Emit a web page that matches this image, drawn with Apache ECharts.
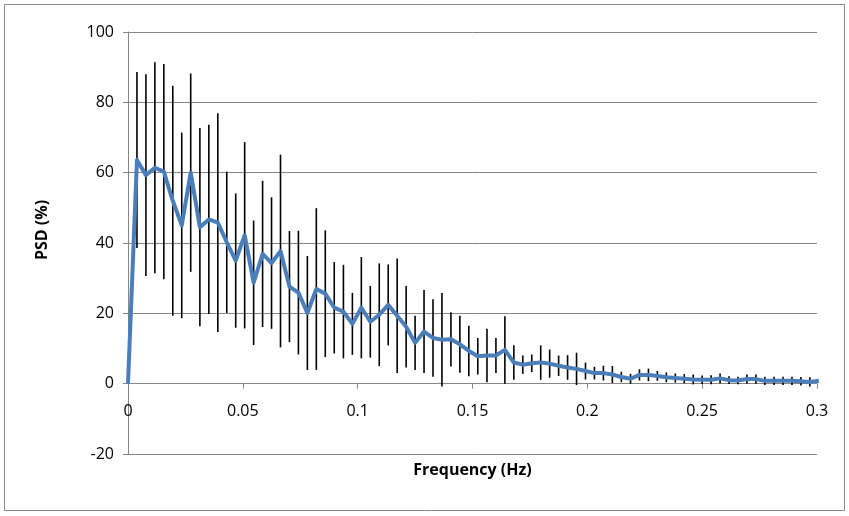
<!DOCTYPE html>
<html>
<head>
<meta charset="utf-8">
<script src="https://cdn.jsdelivr.net/npm/echarts@6/dist/echarts.min.js"></script>
<style>
html,body{margin:0;padding:0;background:#fff;}
#chart{width:849px;height:516px;}
</style>
</head>
<body>
<div id="chart"></div>
<script>
const freq = [0,0.0039,0.0078,0.0117,0.0156,0.0195,0.0234,0.0273,0.0313,0.0352,
0.0391,0.0430,0.0469,0.0508,0.0547,0.0586,0.0625,0.0664,0.0703,0.0742,
0.0781,0.0820,0.0859,0.0898,0.0938,0.0977,0.1016,0.1055,0.1094,0.1133,
0.1172,0.1211,0.1250,0.1289,0.1328,0.1367,0.1406,0.1445,0.1484,0.1523,
0.1563,0.1602,0.1641,0.1680,0.1719,0.1758,0.1797,0.1836,0.1875,0.1914,
0.1953,0.1992,0.2031,0.2070,0.2109,0.2148,0.2188,0.2227,0.2266,0.2305,
0.2344,0.2383,0.2422,0.2461,0.2500,0.2539,0.2578,0.2617,0.2656,0.2695,
0.2734,0.2773,0.2813,0.2852,0.2891,0.2930,0.2969,0.3008];
const psdMean = [0,63.6,59.3,61.4,60.3,52.0,45.0,60.0,44.5,46.7,
45.8,40.2,35.0,42.2,28.7,36.9,34.3,37.7,27.6,25.9,
20.1,26.9,25.6,21.6,20.5,17.0,21.6,17.6,19.6,22.4,
19.3,16.2,11.6,14.8,13.0,12.5,12.6,11.2,9.3,7.8,
8.0,8.0,9.6,6.0,5.4,5.8,6.0,5.7,5.1,4.6,
4.2,3.6,3.0,3.0,2.6,1.9,1.4,2.5,2.5,2.2,
1.8,1.6,1.4,1.2,1.1,1.1,1.5,1.0,0.9,1.3,
1.3,0.8,0.8,0.8,0.8,0.7,0.5,0.8];
const psdSD = [0,25,28.7,30,30.6,32.7,26.4,28.2,28.2,26.9,
31.1,20.1,19.1,26.5,17.7,20.8,18.7,27.4,15.8,17.6,
16.2,23,18,13,13.3,8.8,14.4,10.2,14.6,11.5,
16.3,11.6,7.7,11.8,11,13.3,7.7,8.1,7.2,5.2,
7.6,5,9.6,4.9,2.6,2.5,4.9,4,2.9,3.5,
4.6,2.4,1.8,2.1,2.4,1.5,1.4,1.6,1.8,1.4,
1.4,1.3,1.3,1.4,1.2,1.3,1.4,1.1,1.1,1.3,
1.3,1.2,1.2,1.2,1.2,1.2,1.3,1.3];
const yTicks = [-20,0,20,40,60,80,100];
const xTicks = [0,0.05,0.1,0.15,0.2,0.25,0.3];

const lineData = freq.map((f,i)=>[f, psdMean[i]]);
const errData = freq.map((f,i)=>[f, psdMean[i]-psdSD[i], psdMean[i]+psdSD[i]]).filter((d,i)=>psdSD[i]>0);

const font = '"Open Sans", "Noto Sans", sans-serif';
const gridTop = 32, gridBottom = 62, H = 516;
// pixel distance from y=-20 (bottom) to y=0, where the x axis crosses
const zeroOffset = (H - gridTop - gridBottom) * (0 - yTicks[0]) / (yTicks[yTicks.length-1] - yTicks[0]);

const chart = echarts.init(document.getElementById('chart'), null, {renderer:'canvas'});
chart.setOption({
  animation:false,
  backgroundColor:'#fff',
  graphic:[{type:'rect', shape:{x:4.5,y:4.5,width:840,height:506}, style:{fill:'none', stroke:'#8a8a8a', lineWidth:1}, silent:true, z:-10}],
  grid:{left:128, right:32, top:gridTop, bottom:gridBottom, containLabel:false, outerBoundsMode:'none'},
  xAxis:{
    type:'value', min:xTicks[0], max:xTicks[xTicks.length-1], interval:0.05,
    position:'bottom', offset:-zeroOffset,
    name:'Frequency (Hz)', nameLocation:'middle', nameGap:79,
    nameTextStyle:{fontFamily:font, fontWeight:'bold', fontSize:16, color:'#000'},
    axisLine:{onZero:false, lineStyle:{color:'#868686', width:1}},
    axisTick:{show:true, length:5, lineStyle:{color:'#868686'}},
    axisLabel:{fontFamily:font, fontSize:16, color:'#000', margin:20, formatter:v=>String(+v.toFixed(2))},
    splitLine:{show:false}
  },
  yAxis:{
    type:'value', min:yTicks[0], max:yTicks[yTicks.length-1], interval:20,
    name:'PSD (%)', nameLocation:'middle', nameGap:78, nameRotate:90,
    nameTextStyle:{fontFamily:font, fontWeight:'bold', fontSize:16, color:'#000', padding:[0,0,0,26]},
    axisLine:{show:true, onZero:false, lineStyle:{color:'#868686', width:1}},
    axisTick:{show:true, length:5, lineStyle:{color:'#868686'}},
    axisLabel:{fontFamily:font, fontSize:16, color:'#000', margin:14},
    splitLine:{show:true, lineStyle:{color:'#868686', width:1}}
  },
  series:[
    {
      type:'custom', name:'SD', data:errData, clip:true, z:2,
      renderItem:function(params, api){
        const x = api.value(0);
        const p1 = api.coord([x, api.value(1)]);
        const p2 = api.coord([x, api.value(2)]);
        return {type:'line', shape:{x1:p1[0], y1:p1[1], x2:p2[0], y2:p2[1]}, style:{stroke:'#000', lineWidth:1.6}};
      }
    },
    {
      type:'line', name:'PSD', data:lineData, showSymbol:false, symbol:'none', clip:true, z:3,
      lineStyle:{color:'#4a7ebb', width:4, join:'round'}
    }
  ]
});
</script>
</body>
</html>
